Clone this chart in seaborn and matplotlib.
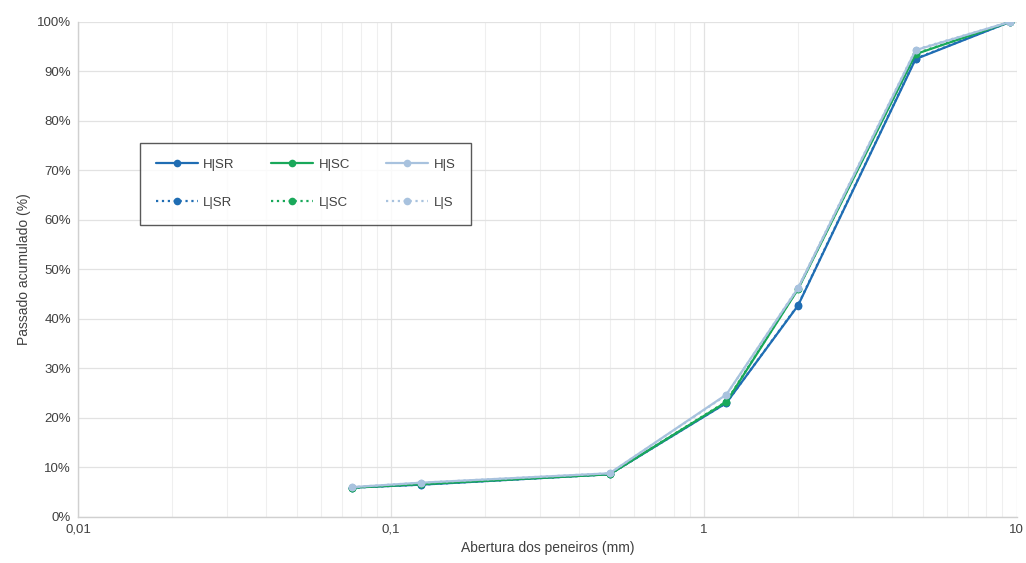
import matplotlib
matplotlib.use("Agg")
import matplotlib.pyplot as plt
import matplotlib.ticker as mticker
import numpy as np
import pandas as pd
import seaborn as sns

# Sieve openings (mm) and cumulative passing (%) per mixture
sieves = [0.075, 0.125, 0.5, 1.18, 2.0, 4.75, 9.5]

h_sr = [5.9, 6.5, 8.6, 23.0, 42.7, 92.5, 100.0]
h_sc = [5.9, 6.6, 8.6, 23.2, 46.0, 93.5, 100.0]
h_s = [6.0, 6.9, 8.8, 24.7, 46.2, 94.3, 100.0]
l_sr = [5.9, 6.5, 8.6, 23.0, 42.8, 92.6, 100.0]
l_sc = [5.9, 6.6, 8.6, 23.3, 46.1, 93.6, 100.0]
l_s = [6.0, 6.9, 8.8, 24.6, 46.3, 94.4, 100.0]

series_names = ["H|SR", "L|SR", "H|SC", "L|SC", "H|S", "L|S"]
series_values = [h_sr, l_sr, h_sc, l_sc, h_s, l_s]

colors = {"SR": "#1f6db3", "SC": "#19a85a", "S": "#a8c2de"}

sns.set_theme(style="white")
plt.rcParams["font.family"] = ["Liberation Sans", "DejaVu Sans"]

fig = plt.figure(figsize=(10.26, 5.63), dpi=100)
ax = fig.add_axes([0.076, 0.082, 0.915, 0.879])

for name, vals in zip(series_names, series_values):
    kind, mix = name.split("|")
    df = pd.DataFrame({"abertura": sieves, "passado": vals})
    sns.lineplot(
        data=df, x="abertura", y="passado", ax=ax,
        color=colors[mix],
        linestyle="-" if kind == "H" else ":",
        linewidth=1.6,
        marker="o", markersize=5.5, markeredgewidth=0,
        label=name, sort=False,
    )

ax.set_xscale("log")
ax.set_xlim(0.01, 10)
ax.set_ylim(0, 100)

ax.xaxis.set_major_locator(mticker.FixedLocator([0.01, 0.1, 1, 10]))
ax.xaxis.set_major_formatter(
    mticker.FixedFormatter(["0,01", "0,1", "1", "10"]))
ax.xaxis.set_minor_locator(mticker.LogLocator(base=10, subs=np.arange(2, 10)))
ax.xaxis.set_minor_formatter(mticker.NullFormatter())
ax.yaxis.set_major_locator(mticker.MultipleLocator(10))
ax.yaxis.set_major_formatter(mticker.FuncFormatter(lambda v, p: f"{v:.0f}%"))

ax.grid(True, which="major", axis="both", color="#e2e2e2", linewidth=0.9)
ax.grid(True, which="minor", axis="x", color="#efefef", linewidth=0.8)
ax.set_axisbelow(True)

for side in ["top", "right"]:
    ax.spines[side].set_visible(False)
for side in ["left", "bottom"]:
    ax.spines[side].set_color("#d0d0d0")
    ax.spines[side].set_linewidth(1.0)

ax.tick_params(axis="both", which="both", length=0, labelsize=9.5,
               colors="#404040", pad=5)
ax.set_xlabel("Abertura dos peneiros (mm)", fontsize=10, color="#404040")
ax.set_ylabel("Passado acumulado (%)", fontsize=10, color="#404040")

leg = ax.legend(
    ncol=3, loc="upper left", bbox_to_anchor=(0.066, 0.756),
    frameon=True, fancybox=False, edgecolor="#303030",
    fontsize=9.5, handlelength=3.2, columnspacing=2.75,
    labelspacing=1.95, borderpad=1.2, handletextpad=0.4,
    borderaxespad=0,
)
leg.get_frame().set_linewidth(1.0)
for t in leg.get_texts():
    t.set_color("#404040")

fig.savefig("out.png", dpi=100, facecolor="white")
